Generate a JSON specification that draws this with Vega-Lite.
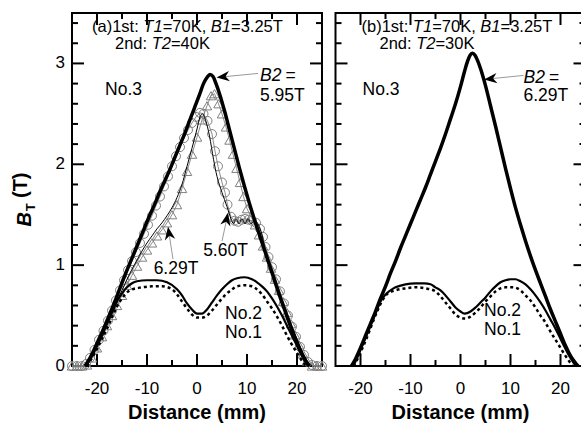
{
"$schema":"https://vega.github.io/schema/vega-lite/v6.json",
"padding":{"left":9,"top":11,"right":0,"bottom":0},
"spacing":3.5,
"config":{"font":"Liberation Sans","view":{"stroke":"black","strokeWidth":2}},
"datasets":{
"tb":[{"x":-20,"y":0},{"x":-15,"y":0},{"x":-10,"y":0},{"x":-5,"y":0},{"x":0,"y":0},{"x":5,"y":0},{"x":10,"y":0},{"x":15,"y":0},{"x":20,"y":0}],
"tt":[{"x":-20,"y":3.5},{"x":-15,"y":3.5},{"x":-10,"y":3.5},{"x":-5,"y":3.5},{"x":0,"y":3.5},{"x":5,"y":3.5},{"x":10,"y":3.5},{"x":15,"y":3.5},{"x":20,"y":3.5}],
"tl":[{"x":-25,"y":0.2},{"x":-25,"y":0.4},{"x":-25,"y":0.6},{"x":-25,"y":0.8},{"x":-25,"y":1},{"x":-25,"y":1.2},{"x":-25,"y":1.4},{"x":-25,"y":1.6},{"x":-25,"y":1.8},{"x":-25,"y":2},{"x":-25,"y":2.2},{"x":-25,"y":2.4},{"x":-25,"y":2.6},{"x":-25,"y":2.8},{"x":-25,"y":3},{"x":-25,"y":3.2},{"x":-25,"y":3.4}],
"tr":[{"x":25,"y":0.2},{"x":25,"y":0.4},{"x":25,"y":0.6},{"x":25,"y":0.8},{"x":25,"y":1},{"x":25,"y":1.2},{"x":25,"y":1.4},{"x":25,"y":1.6},{"x":25,"y":1.8},{"x":25,"y":2},{"x":25,"y":2.2},{"x":25,"y":2.4},{"x":25,"y":2.6},{"x":25,"y":2.8},{"x":25,"y":3},{"x":25,"y":3.2},{"x":25,"y":3.4}],
"xlab":[{"x":-20,"y":-0.228,"t":"-20"},{"x":-10,"y":-0.228,"t":"-10"},{"x":0,"y":-0.228,"t":"0"},{"x":10,"y":-0.228,"t":"10"},{"x":20,"y":-0.228,"t":"20"}],
"xtitle":[{"x":0,"y":-0.466,"t":"Distance (mm)"}],
"ylab":[{"x":-26.4,"y":0,"t":"0"},{"x":-26.4,"y":1,"t":"1"},{"x":-26.4,"y":2,"t":"2"},{"x":-26.4,"y":3,"t":"3"}],
"a_thick":[{"x":-22.4,"y":0},{"x":-21.5,"y":0.07},{"x":-20.5,"y":0.17},{"x":-19.5,"y":0.28},{"x":-18.5,"y":0.39},{"x":-17.5,"y":0.51},{"x":-16.5,"y":0.63},{"x":-15.5,"y":0.76},{"x":-14.5,"y":0.89},{"x":-13.5,"y":1.01},{"x":-12.5,"y":1.13},{"x":-11.5,"y":1.25},{"x":-10.5,"y":1.37},{"x":-9.5,"y":1.49},{"x":-8.5,"y":1.6},{"x":-7.5,"y":1.72},{"x":-6.5,"y":1.83},{"x":-5.5,"y":1.94},{"x":-4.5,"y":2.06},{"x":-3.5,"y":2.18},{"x":-2.5,"y":2.3},{"x":-1.5,"y":2.43},{"x":-0.5,"y":2.56},{"x":0.5,"y":2.69},{"x":1.3,"y":2.8},{"x":2,"y":2.86},{"x":2.6,"y":2.89},{"x":3.2,"y":2.87},{"x":3.8,"y":2.8},{"x":4.5,"y":2.7},{"x":5.5,"y":2.53},{"x":6.5,"y":2.34},{"x":7.5,"y":2.15},{"x":8.5,"y":1.96},{"x":9.5,"y":1.78},{"x":10.5,"y":1.61},{"x":11.5,"y":1.45},{"x":12.5,"y":1.3},{"x":13.5,"y":1.15},{"x":14.5,"y":1.0},{"x":15.5,"y":0.85},{"x":16.5,"y":0.7},{"x":17.5,"y":0.56},{"x":18.5,"y":0.42},{"x":19.5,"y":0.29},{"x":20.5,"y":0.17},{"x":21.5,"y":0.07},{"x":22.4,"y":0}],
"a_circ":[{"x":-25,"y":0},{"x":-24,"y":0},{"x":-23,"y":0},{"x":-22.2,"y":0.02},{"x":-21.4,"y":0.08},{"x":-20.5,"y":0.16},{"x":-19.6,"y":0.26},{"x":-18.7,"y":0.35},{"x":-17.8,"y":0.45},{"x":-17,"y":0.55},{"x":-16.2,"y":0.65},{"x":-15.4,"y":0.75},{"x":-14.6,"y":0.85},{"x":-13.8,"y":0.95},{"x":-13,"y":1.04},{"x":-12.2,"y":1.13},{"x":-11.4,"y":1.22},{"x":-10.6,"y":1.31},{"x":-9.8,"y":1.4},{"x":-9,"y":1.49},{"x":-8.2,"y":1.59},{"x":-7.4,"y":1.68},{"x":-6.6,"y":1.78},{"x":-5.8,"y":1.88},{"x":-5,"y":1.98},{"x":-4.2,"y":2.08},{"x":-3.4,"y":2.17},{"x":-2.6,"y":2.26},{"x":-1.8,"y":2.34},{"x":-1,"y":2.41},{"x":-0.2,"y":2.47},{"x":0.6,"y":2.51},{"x":1.3,"y":2.5},{"x":2.1,"y":2.43},{"x":3,"y":2.3},{"x":3.6,"y":2.13},{"x":4.2,"y":1.98},{"x":5,"y":1.82},{"x":5.6,"y":1.72},{"x":6.1,"y":1.6},{"x":6.8,"y":1.48},{"x":7.5,"y":1.44},{"x":8.2,"y":1.43},{"x":8.9,"y":1.45},{"x":9.6,"y":1.46},{"x":10.3,"y":1.45},{"x":11,"y":1.44},{"x":11.8,"y":1.42},{"x":12.6,"y":1.36},{"x":13.2,"y":1.28},{"x":13.7,"y":1.18},{"x":14.3,"y":1.08},{"x":15,"y":0.98},{"x":15.8,"y":0.86},{"x":16.6,"y":0.74},{"x":17.4,"y":0.62},{"x":18.2,"y":0.5},{"x":19,"y":0.39},{"x":19.8,"y":0.29},{"x":20.6,"y":0.19},{"x":21.4,"y":0.11},{"x":22.2,"y":0.04},{"x":23,"y":0.01},{"x":24,"y":0},{"x":25,"y":0}],
"a_tri":[{"x":-25,"y":0},{"x":-24,"y":0},{"x":-23,"y":0},{"x":-22,"y":0.01},{"x":-21,"y":0.08},{"x":-20,"y":0.18},{"x":-19,"y":0.29},{"x":-18,"y":0.4},{"x":-17,"y":0.5},{"x":-16,"y":0.6},{"x":-15,"y":0.7},{"x":-14,"y":0.8},{"x":-13,"y":0.9},{"x":-12,"y":0.99},{"x":-11,"y":1.08},{"x":-10,"y":1.15},{"x":-9,"y":1.22},{"x":-8,"y":1.29},{"x":-7,"y":1.35},{"x":-6,"y":1.42},{"x":-5,"y":1.5},{"x":-4,"y":1.6},{"x":-3,"y":1.76},{"x":-2,"y":1.93},{"x":-1,"y":2.1},{"x":0,"y":2.27},{"x":1,"y":2.44},{"x":2,"y":2.58},{"x":2.8,"y":2.68},{"x":3.5,"y":2.7},{"x":4.3,"y":2.6},{"x":5,"y":2.5},{"x":5.8,"y":2.37},{"x":6.5,"y":2.24},{"x":7.2,"y":2.1},{"x":7.9,"y":1.96},{"x":8.6,"y":1.82},{"x":9.3,"y":1.68},{"x":10,"y":1.56},{"x":10.8,"y":1.48},{"x":11.6,"y":1.4},{"x":12.4,"y":1.3},{"x":13.2,"y":1.19},{"x":14,"y":1.08},{"x":14.8,"y":0.97},{"x":15.6,"y":0.86},{"x":16.4,"y":0.75},{"x":17.2,"y":0.64},{"x":18,"y":0.53},{"x":18.8,"y":0.42},{"x":19.6,"y":0.31},{"x":20.4,"y":0.21},{"x":21.2,"y":0.12},{"x":22,"y":0.05},{"x":23,"y":0},{"x":24,"y":0},{"x":25,"y":0}],
"a_thin":[{"x":-22,"y":0},{"x":-21,"y":0.1},{"x":-20,"y":0.2},{"x":-19,"y":0.31},{"x":-18,"y":0.42},{"x":-17,"y":0.53},{"x":-16,"y":0.64},{"x":-15,"y":0.75},{"x":-14,"y":0.86},{"x":-13,"y":0.96},{"x":-12,"y":1.05},{"x":-11,"y":1.14},{"x":-10,"y":1.22},{"x":-9,"y":1.29},{"x":-8,"y":1.36},{"x":-7,"y":1.42},{"x":-6,"y":1.49},{"x":-5,"y":1.57},{"x":-4,"y":1.67},{"x":-3,"y":1.8},{"x":-2,"y":1.98},{"x":-1,"y":2.16},{"x":0,"y":2.35},{"x":0.6,"y":2.47},{"x":1.1,"y":2.5},{"x":1.7,"y":2.44},{"x":2.5,"y":2.28},{"x":3.3,"y":2.05},{"x":4,"y":1.88},{"x":5,"y":1.72},{"x":6,"y":1.58},{"x":6.8,"y":1.46},{"x":7.3,"y":1.41},{"x":7.8,"y":1.46},{"x":8.4,"y":1.41},{"x":9,"y":1.46},{"x":9.6,"y":1.41},{"x":10.2,"y":1.46},{"x":10.8,"y":1.41},{"x":11.5,"y":1.44},{"x":12.3,"y":1.4},{"x":13,"y":1.3},{"x":13.6,"y":1.16},{"x":14.5,"y":1.02},{"x":15.5,"y":0.88},{"x":16.5,"y":0.73},{"x":17.5,"y":0.59},{"x":18.5,"y":0.46},{"x":19.5,"y":0.33},{"x":20.5,"y":0.21},{"x":21.5,"y":0.1},{"x":22.5,"y":0.02},{"x":23,"y":0}],
"a_no2":[{"x":-22.3,"y":0},{"x":-21,"y":0.1},{"x":-20,"y":0.2},{"x":-19,"y":0.3},{"x":-18,"y":0.42},{"x":-17,"y":0.53},{"x":-16,"y":0.64},{"x":-15,"y":0.72},{"x":-14,"y":0.78},{"x":-13,"y":0.82},{"x":-12,"y":0.84},{"x":-10,"y":0.85},{"x":-8,"y":0.85},{"x":-6,"y":0.83},{"x":-4,"y":0.76},{"x":-3,"y":0.7},{"x":-2,"y":0.62},{"x":-1,"y":0.56},{"x":0,"y":0.52},{"x":1,"y":0.52},{"x":2,"y":0.56},{"x":3,"y":0.63},{"x":4,"y":0.7},{"x":5,"y":0.76},{"x":6,"y":0.81},{"x":7,"y":0.85},{"x":8,"y":0.87},{"x":9.5,"y":0.88},{"x":11,"y":0.86},{"x":12,"y":0.83},{"x":13,"y":0.79},{"x":14,"y":0.74},{"x":15,"y":0.67},{"x":16,"y":0.59},{"x":17,"y":0.5},{"x":18,"y":0.4},{"x":19,"y":0.3},{"x":20,"y":0.2},{"x":21,"y":0.1},{"x":22,"y":0.02},{"x":22.5,"y":0}],
"a_no1":[{"x":-22,"y":0},{"x":-21,"y":0.08},{"x":-20,"y":0.17},{"x":-19,"y":0.27},{"x":-18,"y":0.37},{"x":-17,"y":0.48},{"x":-16,"y":0.59},{"x":-15,"y":0.67},{"x":-14,"y":0.73},{"x":-13,"y":0.76},{"x":-11,"y":0.78},{"x":-9,"y":0.79},{"x":-7,"y":0.79},{"x":-5,"y":0.76},{"x":-4,"y":0.71},{"x":-3,"y":0.64},{"x":-2,"y":0.57},{"x":-1,"y":0.51},{"x":0,"y":0.48},{"x":1,"y":0.48},{"x":2,"y":0.5},{"x":3,"y":0.55},{"x":4,"y":0.61},{"x":5,"y":0.67},{"x":6,"y":0.72},{"x":7,"y":0.76},{"x":8,"y":0.79},{"x":9.5,"y":0.8},{"x":11,"y":0.79},{"x":12,"y":0.76},{"x":13,"y":0.71},{"x":14,"y":0.64},{"x":15,"y":0.57},{"x":16,"y":0.49},{"x":17,"y":0.4},{"x":18,"y":0.3},{"x":19,"y":0.21},{"x":20,"y":0.13},{"x":21,"y":0.05},{"x":21.8,"y":0}],
"a_arrow":[{"g":1,"x":5.2,"y":2.867},{"g":1,"x":12.2,"y":2.901},{"g":2,"x":-5.6,"y":1.317},{"g":2,"x":-4.8,"y":1.059},{"g":3,"x":5.94,"y":1.456},{"g":3,"x":5.0,"y":1.238}],
"a_head":[{"id":1,"x":5.2,"y":2.867},{"id":2,"x":-5.6,"y":1.317},{"id":3,"x":5.94,"y":1.456}],
"a_text":[{"k":"c","x":-14.7,"y":2.733,"t":"No.3"},{"k":"c","x":-4.2,"y":0.96,"t":"6.29T"},{"k":"c","x":5.7,"y":1.14,"t":"5.60T"},{"k":"c","x":9.3,"y":0.515,"t":"No.2"},{"k":"c","x":9.3,"y":0.327,"t":"No.1"},{"k":"l","x":12.6,"y":2.673,"t":"5.95T"},{"k":"l","x":17.7,"y":2.871,"t":"="},{"k":"li","x":12.6,"y":2.871,"t":"B2"},{"k":"h","x":-21,"y":3.366,"t":"(a)1st:"},{"k":"h","x":-6.87,"y":3.366,"t":"=70K,"},{"k":"h","x":6.8,"y":3.366,"t":"=3.25T"},{"k":"h","x":-16.4,"y":3.188,"t":"2nd:"},{"k":"h","x":-5.21,"y":3.188,"t":"=40K"},{"k":"hi","x":-10.73,"y":3.366,"t":"T1"},{"k":"hi","x":2.76,"y":3.366,"t":"B1"},{"k":"hi","x":-9.06,"y":3.188,"t":"T2"},{"k":"yb","x":-34.4,"y":1.455,"t":"B"},{"k":"ys","x":-33.2,"y":1.574,"t":"T"},{"k":"yt","x":-35.2,"y":1.792,"t":"(T)"}],
"b_thick":[{"x":-21.8,"y":0},{"x":-21,"y":0.07},{"x":-20,"y":0.18},{"x":-19,"y":0.3},{"x":-18,"y":0.42},{"x":-17,"y":0.54},{"x":-16,"y":0.67},{"x":-15,"y":0.79},{"x":-14,"y":0.92},{"x":-13,"y":1.04},{"x":-12,"y":1.17},{"x":-11,"y":1.29},{"x":-10,"y":1.41},{"x":-9,"y":1.53},{"x":-8,"y":1.65},{"x":-7,"y":1.77},{"x":-6,"y":1.9},{"x":-5,"y":2.03},{"x":-4,"y":2.16},{"x":-3,"y":2.3},{"x":-2,"y":2.45},{"x":-1,"y":2.6},{"x":0,"y":2.77},{"x":0.8,"y":2.92},{"x":1.4,"y":3.02},{"x":1.9,"y":3.08},{"x":2.4,"y":3.1},{"x":2.9,"y":3.08},{"x":3.4,"y":3.03},{"x":4,"y":2.95},{"x":5,"y":2.78},{"x":6,"y":2.58},{"x":7,"y":2.38},{"x":8,"y":2.17},{"x":9,"y":1.96},{"x":10,"y":1.76},{"x":11,"y":1.57},{"x":12,"y":1.4},{"x":13,"y":1.24},{"x":14,"y":1.09},{"x":15,"y":0.95},{"x":16,"y":0.82},{"x":17,"y":0.69},{"x":18,"y":0.56},{"x":19,"y":0.44},{"x":20,"y":0.32},{"x":21,"y":0.2},{"x":22,"y":0.1},{"x":23,"y":0.03},{"x":23.5,"y":0}],
"b_no2":[{"x":-21.4,"y":0},{"x":-20.5,"y":0.1},{"x":-19.5,"y":0.22},{"x":-18.4,"y":0.35},{"x":-17,"y":0.52},{"x":-16,"y":0.64},{"x":-15,"y":0.71},{"x":-14,"y":0.75},{"x":-13,"y":0.78},{"x":-11,"y":0.81},{"x":-9,"y":0.82},{"x":-7.2,"y":0.82},{"x":-6,"y":0.81},{"x":-5,"y":0.78},{"x":-4,"y":0.75},{"x":-3,"y":0.7},{"x":-2,"y":0.64},{"x":-1,"y":0.58},{"x":0,"y":0.54},{"x":0.8,"y":0.52},{"x":2,"y":0.54},{"x":3,"y":0.58},{"x":4,"y":0.63},{"x":5,"y":0.68},{"x":6,"y":0.74},{"x":7,"y":0.79},{"x":8,"y":0.83},{"x":9,"y":0.85},{"x":10,"y":0.86},{"x":11,"y":0.86},{"x":12,"y":0.84},{"x":13,"y":0.81},{"x":14,"y":0.76},{"x":15,"y":0.7},{"x":16,"y":0.63},{"x":17,"y":0.55},{"x":18,"y":0.46},{"x":19,"y":0.37},{"x":20,"y":0.27},{"x":21,"y":0.17},{"x":22,"y":0.08},{"x":23,"y":0.01},{"x":23.3,"y":0}],
"b_no1":[{"x":-21.4,"y":0},{"x":-20.5,"y":0.08},{"x":-19.5,"y":0.19},{"x":-18.5,"y":0.31},{"x":-17.5,"y":0.44},{"x":-16.5,"y":0.56},{"x":-15.5,"y":0.66},{"x":-14.5,"y":0.72},{"x":-13,"y":0.75},{"x":-11,"y":0.77},{"x":-9,"y":0.78},{"x":-7,"y":0.77},{"x":-5,"y":0.74},{"x":-4,"y":0.69},{"x":-3,"y":0.63},{"x":-2,"y":0.57},{"x":-1,"y":0.51},{"x":0,"y":0.48},{"x":1,"y":0.47},{"x":2,"y":0.49},{"x":3,"y":0.53},{"x":4,"y":0.58},{"x":5,"y":0.64},{"x":6,"y":0.69},{"x":7,"y":0.74},{"x":8,"y":0.77},{"x":9,"y":0.78},{"x":10.5,"y":0.78},{"x":12,"y":0.75},{"x":13,"y":0.7},{"x":14,"y":0.65},{"x":15,"y":0.58},{"x":16,"y":0.5},{"x":17,"y":0.43},{"x":18,"y":0.34},{"x":19,"y":0.26},{"x":20,"y":0.18},{"x":21,"y":0.1},{"x":22,"y":0.03},{"x":22.5,"y":0}],
"b_arrow":[{"g":1,"x":6.0,"y":2.848},{"g":1,"x":12.6,"y":2.881}],
"b_head":[{"id":1,"x":6.0,"y":2.848}],
"b_text":[{"k":"c","x":-15.9,"y":2.733,"t":"No.3"},{"k":"c","x":8.4,"y":0.545,"t":"No.2"},{"k":"c","x":8.4,"y":0.356,"t":"No.1"},{"k":"l","x":12.6,"y":2.673,"t":"6.29T"},{"k":"l","x":17.7,"y":2.851,"t":"="},{"k":"li","x":12.6,"y":2.851,"t":"B2"},{"k":"h","x":-19.8,"y":3.366,"t":"(b)1st:"},{"k":"h","x":-5.67,"y":3.366,"t":"=70K,"},{"k":"h","x":8.0,"y":3.366,"t":"=3.25T"},{"k":"h","x":-16.2,"y":3.188,"t":"2nd:"},{"k":"h","x":-5.01,"y":3.188,"t":"=30K"},{"k":"hi","x":-9.53,"y":3.366,"t":"T1"},{"k":"hi","x":3.96,"y":3.366,"t":"B1"},{"k":"hi","x":-8.86,"y":3.188,"t":"T2"}]
},
"hconcat":[
{
"width":250,"height":353,
"encoding":{"x":{"field":"x","type":"quantitative","scale":{"domain":[-25,25],"nice":false,"zero":false},"axis":null},"y":{"field":"y","type":"quantitative","scale":{"domain":[0,3.5],"nice":false,"zero":false},"axis":null}},
"layer":[
{"data":{"name":"tb"},"transform":[{"filter":"datum.x % 10 === 0"}],"mark":{"type":"rule","color":"black","strokeWidth":2},"encoding":{"y2":{"datum":0.119}}},
{"data":{"name":"tb"},"transform":[{"filter":"datum.x % 10 !== 0"}],"mark":{"type":"rule","color":"black","strokeWidth":2},"encoding":{"y2":{"datum":0.06}}},
{"data":{"name":"tt"},"transform":[{"filter":"datum.x % 10 === 0"}],"mark":{"type":"rule","color":"black","strokeWidth":2},"encoding":{"y2":{"datum":3.381}}},
{"data":{"name":"tt"},"transform":[{"filter":"datum.x % 10 !== 0"}],"mark":{"type":"rule","color":"black","strokeWidth":2},"encoding":{"y2":{"datum":3.44}}},
{"data":{"name":"tl"},"transform":[{"filter":"datum.y === round(datum.y)"}],"mark":{"type":"rule","color":"black","strokeWidth":2},"encoding":{"x2":{"datum":-22.6}}},
{"data":{"name":"tl"},"transform":[{"filter":"datum.y !== round(datum.y)"}],"mark":{"type":"rule","color":"black","strokeWidth":2},"encoding":{"x2":{"datum":-23.8}}},
{"data":{"name":"tr"},"transform":[{"filter":"datum.y === round(datum.y)"}],"mark":{"type":"rule","color":"black","strokeWidth":2},"encoding":{"x2":{"datum":22.6}}},
{"data":{"name":"tr"},"transform":[{"filter":"datum.y !== round(datum.y)"}],"mark":{"type":"rule","color":"black","strokeWidth":2},"encoding":{"x2":{"datum":23.8}}},
{"data":{"name":"xlab"},"mark":{"type":"text","fontSize":17,"align":"center","baseline":"middle","color":"black"},"encoding":{"text":{"field":"t"}}},
{"data":{"name":"xtitle"},"mark":{"type":"text","fontSize":20,"fontWeight":"bold","align":"center","baseline":"middle","color":"black"},"encoding":{"text":{"field":"t"}}},
{"data":{"name":"ylab"},"mark":{"type":"text","fontSize":17,"align":"right","baseline":"middle","color":"black"},"encoding":{"text":{"field":"t"}}},
{"data":{"name":"a_circ"},"mark":{"type":"line","color":"#8c8c8c","strokeWidth":1}},
{"data":{"name":"a_tri"},"mark":{"type":"line","color":"#8c8c8c","strokeWidth":1}},
{"data":{"name":"a_circ"},"mark":{"type":"point","shape":"circle","filled":false,"color":"#808080","strokeWidth":1,"size":80,"opacity":1}},
{"data":{"name":"a_tri"},"mark":{"type":"point","shape":"triangle-up","filled":false,"color":"#808080","strokeWidth":1,"size":90,"opacity":1}},
{"data":{"name":"a_thin"},"mark":{"type":"line","color":"black","strokeWidth":1,"interpolate":"monotone"}},
{"data":{"name":"a_no1"},"mark":{"type":"line","color":"black","strokeWidth":2.5,"strokeDash":[3,3],"interpolate":"monotone"}},
{"data":{"name":"a_no2"},"mark":{"type":"line","color":"black","strokeWidth":2.2,"interpolate":"monotone"}},
{"data":{"name":"a_thick"},"mark":{"type":"line","color":"black","strokeWidth":3.5,"interpolate":"monotone"}},
{"data":{"name":"a_arrow"},"mark":{"type":"line","color":"#999999","strokeWidth":1},"encoding":{"detail":{"field":"g"}}},
{"data":{"name":"a_head"},"transform":[{"filter":"datum.id === 1"}],"mark":{"type":"point","shape":"M1,0 L-1,-0.8 L-0.4,0 L-1,0.8 Z","filled":true,"color":"black","opacity":1,"size":169,"angle":174}},
{"data":{"name":"a_head"},"transform":[{"filter":"datum.id === 2"}],"mark":{"type":"point","shape":"M1,0 L-1,-0.8 L-0.4,0 L-1,0.8 Z","filled":true,"color":"black","opacity":1,"size":169,"angle":261}},
{"data":{"name":"a_head"},"transform":[{"filter":"datum.id === 3"}],"mark":{"type":"point","shape":"M1,0 L-1,-0.8 L-0.4,0 L-1,0.8 Z","filled":true,"color":"black","opacity":1,"size":169,"angle":282}},
{"data":{"name":"a_text"},"transform":[{"filter":"datum.k === 'c'"}],"mark":{"type":"text","fontSize":17.5,"align":"center","baseline":"middle","color":"black"},"encoding":{"text":{"field":"t"}}},
{"data":{"name":"a_text"},"transform":[{"filter":"datum.k === 'l'"}],"mark":{"type":"text","fontSize":17.5,"align":"left","baseline":"middle","color":"black"},"encoding":{"text":{"field":"t"}}},
{"data":{"name":"a_text"},"transform":[{"filter":"datum.k === 'li'"}],"mark":{"type":"text","fontSize":17.5,"fontStyle":"italic","align":"left","baseline":"middle","color":"black"},"encoding":{"text":{"field":"t"}}},
{"data":{"name":"a_text"},"transform":[{"filter":"datum.k === 'h'"}],"mark":{"type":"text","fontSize":16.5,"align":"left","baseline":"middle","color":"black"},"encoding":{"text":{"field":"t"}}},
{"data":{"name":"a_text"},"transform":[{"filter":"datum.k === 'hi'"}],"mark":{"type":"text","fontSize":16.5,"fontStyle":"italic","align":"left","baseline":"middle","color":"black"},"encoding":{"text":{"field":"t"}}},
{"data":{"name":"a_text"},"transform":[{"filter":"datum.k === 'yb'"}],"mark":{"type":"text","fontSize":20,"fontStyle":"italic","fontWeight":"bold","angle":270,"align":"center","baseline":"middle","color":"black"},"encoding":{"text":{"field":"t"}}},
{"data":{"name":"a_text"},"transform":[{"filter":"datum.k === 'ys'"}],"mark":{"type":"text","fontSize":13,"fontWeight":"bold","angle":270,"align":"center","baseline":"middle","color":"black"},"encoding":{"text":{"field":"t"}}},
{"data":{"name":"a_text"},"transform":[{"filter":"datum.k === 'yt'"}],"mark":{"type":"text","fontSize":20,"fontWeight":"bold","angle":270,"align":"center","baseline":"middle","color":"black"},"encoding":{"text":{"field":"t"}}}
]
},
{
"width":250,"height":353,
"encoding":{"x":{"field":"x","type":"quantitative","scale":{"domain":[-25,25],"nice":false,"zero":false},"axis":null},"y":{"field":"y","type":"quantitative","scale":{"domain":[0,3.5],"nice":false,"zero":false},"axis":null}},
"layer":[
{"data":{"name":"tb"},"transform":[{"filter":"datum.x % 10 === 0"}],"mark":{"type":"rule","color":"black","strokeWidth":2},"encoding":{"y2":{"datum":0.119}}},
{"data":{"name":"tb"},"transform":[{"filter":"datum.x % 10 !== 0"}],"mark":{"type":"rule","color":"black","strokeWidth":2},"encoding":{"y2":{"datum":0.06}}},
{"data":{"name":"tt"},"transform":[{"filter":"datum.x % 10 === 0"}],"mark":{"type":"rule","color":"black","strokeWidth":2},"encoding":{"y2":{"datum":3.381}}},
{"data":{"name":"tt"},"transform":[{"filter":"datum.x % 10 !== 0"}],"mark":{"type":"rule","color":"black","strokeWidth":2},"encoding":{"y2":{"datum":3.44}}},
{"data":{"name":"tl"},"transform":[{"filter":"datum.y === round(datum.y)"}],"mark":{"type":"rule","color":"black","strokeWidth":2},"encoding":{"x2":{"datum":-22.6}}},
{"data":{"name":"tl"},"transform":[{"filter":"datum.y !== round(datum.y)"}],"mark":{"type":"rule","color":"black","strokeWidth":2},"encoding":{"x2":{"datum":-23.8}}},
{"data":{"name":"tr"},"transform":[{"filter":"datum.y === round(datum.y)"}],"mark":{"type":"rule","color":"black","strokeWidth":2},"encoding":{"x2":{"datum":22.6}}},
{"data":{"name":"tr"},"transform":[{"filter":"datum.y !== round(datum.y)"}],"mark":{"type":"rule","color":"black","strokeWidth":2},"encoding":{"x2":{"datum":23.8}}},
{"data":{"name":"xlab"},"mark":{"type":"text","fontSize":17,"align":"center","baseline":"middle","color":"black"},"encoding":{"text":{"field":"t"}}},
{"data":{"name":"xtitle"},"mark":{"type":"text","fontSize":20,"fontWeight":"bold","align":"center","baseline":"middle","color":"black"},"encoding":{"text":{"field":"t"}}},
{"data":{"name":"b_no1"},"mark":{"type":"line","color":"black","strokeWidth":2.5,"strokeDash":[3,3],"interpolate":"monotone"}},
{"data":{"name":"b_no2"},"mark":{"type":"line","color":"black","strokeWidth":2.2,"interpolate":"monotone"}},
{"data":{"name":"b_thick"},"mark":{"type":"line","color":"black","strokeWidth":3.5,"interpolate":"monotone"}},
{"data":{"name":"b_arrow"},"mark":{"type":"line","color":"#999999","strokeWidth":1},"encoding":{"detail":{"field":"g"}}},
{"data":{"name":"b_head"},"mark":{"type":"point","shape":"M1,0 L-1,-0.8 L-0.4,0 L-1,0.8 Z","filled":true,"color":"black","opacity":1,"size":169,"angle":174}},
{"data":{"name":"b_text"},"transform":[{"filter":"datum.k === 'c'"}],"mark":{"type":"text","fontSize":17.5,"align":"center","baseline":"middle","color":"black"},"encoding":{"text":{"field":"t"}}},
{"data":{"name":"b_text"},"transform":[{"filter":"datum.k === 'l'"}],"mark":{"type":"text","fontSize":17.5,"align":"left","baseline":"middle","color":"black"},"encoding":{"text":{"field":"t"}}},
{"data":{"name":"b_text"},"transform":[{"filter":"datum.k === 'li'"}],"mark":{"type":"text","fontSize":17.5,"fontStyle":"italic","align":"left","baseline":"middle","color":"black"},"encoding":{"text":{"field":"t"}}},
{"data":{"name":"b_text"},"transform":[{"filter":"datum.k === 'h'"}],"mark":{"type":"text","fontSize":16.5,"align":"left","baseline":"middle","color":"black"},"encoding":{"text":{"field":"t"}}},
{"data":{"name":"b_text"},"transform":[{"filter":"datum.k === 'hi'"}],"mark":{"type":"text","fontSize":16.5,"fontStyle":"italic","align":"left","baseline":"middle","color":"black"},"encoding":{"text":{"field":"t"}}}
]
}
]
}
